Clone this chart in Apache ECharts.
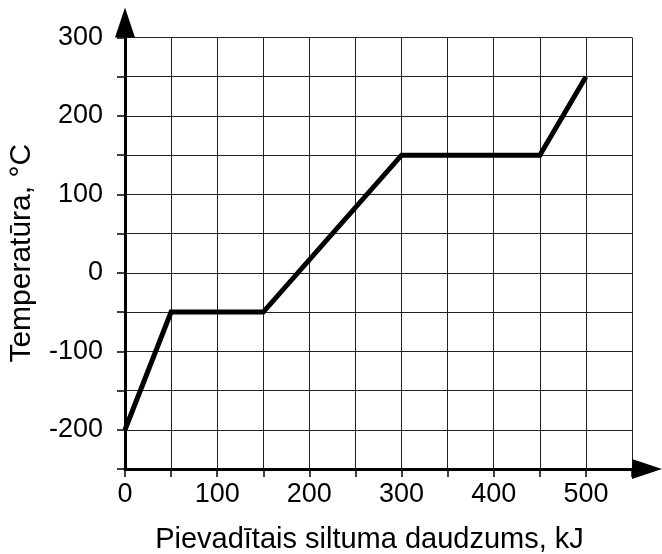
<!DOCTYPE html>
<html>
<head>
<meta charset="utf-8">
<title>Temperatūra</title>
<script src="https://cdn.jsdelivr.net/npm/echarts@6/dist/echarts.min.js"></script>
<style>
  html, body { margin: 0; padding: 0; background: #fff; }
  #main { width: 662px; height: 554px; }
</style>
</head>
<body>
<div id="main"></div>
<script>
// siltuma daudzums (kJ) un temperatūra (°C) lauzuma punktos
var heatKJ = [0, 50, 150, 300, 450, 500];
var tempC = [-200, -50, -50, 150, 150, 250];

var xName = 'Pievadītais siltuma daudzums, kJ';
var yName = 'Temperatūra, °C';

var font = "'Liberation Sans', Arial, sans-serif";

var points = heatKJ.map(function (x, i) {
  return [x, tempC[i]];
});

var chart = echarts.init(document.getElementById('main'), null, {renderer: 'canvas'});

var option = {
  backgroundColor: '#fff',
  animation: false,
  grid: {
    left: 125,
    right: 30,
    top: 37.5,
    bottom: 85,
    containLabel: false,
    outerBoundsMode: 'none'
  },
  xAxis: {
    type: 'value',
    min: 0,
    max: 550,
    interval: 50,
    name: xName,
    nameLocation: 'middle',
    nameGap: 56,
    nameTextStyle: {color: '#000', fontSize: 29, fontFamily: font, padding: [0, 18, 0, 0]},
    axisLine: {
      show: true,
      onZero: false,
      symbol: ['none', 'triangle'],
      symbolSize: [20, 30],
      symbolOffset: [0, 15],
      lineStyle: {color: '#000', width: 3}
    },
    axisTick: {show: true, length: 8, lineStyle: {color: '#000', width: 1.5}},
    axisLabel: {
      margin: 12,
      color: '#000',
      fontSize: 27,
      fontFamily: font,
      formatter: function (v) { return v % 100 === 0 && v <= 500 ? v : ''; }
    },
    splitLine: {show: true, lineStyle: {color: '#222', width: 1}}
  },
  yAxis: {
    type: 'value',
    min: -250,
    max: 300,
    interval: 50,
    name: yName,
    nameLocation: 'middle',
    nameGap: 88,
    nameTextStyle: {color: '#000', fontSize: 30, fontFamily: font},
    axisLine: {
      show: true,
      onZero: false,
      symbol: ['none', 'triangle'],
      symbolSize: [20, 30],
      symbolOffset: [0, 15],
      lineStyle: {color: '#000', width: 3}
    },
    axisTick: {show: true, length: 8, lineStyle: {color: '#000', width: 1.5}},
    axisLabel: {
      margin: 22,
      color: '#000',
      fontSize: 27,
      fontFamily: font,
      formatter: function (v) { return v % 100 === 0 ? v : ''; }
    },
    splitLine: {show: true, lineStyle: {color: '#222', width: 1}}
  },
  series: [
    {
      type: 'line',
      data: points,
      showSymbol: false,
      symbol: 'none',
      lineStyle: {color: '#000', width: 5, join: 'miter'},
      z: 5
    }
  ]
};

chart.setOption(option);
</script>
</body>
</html>
